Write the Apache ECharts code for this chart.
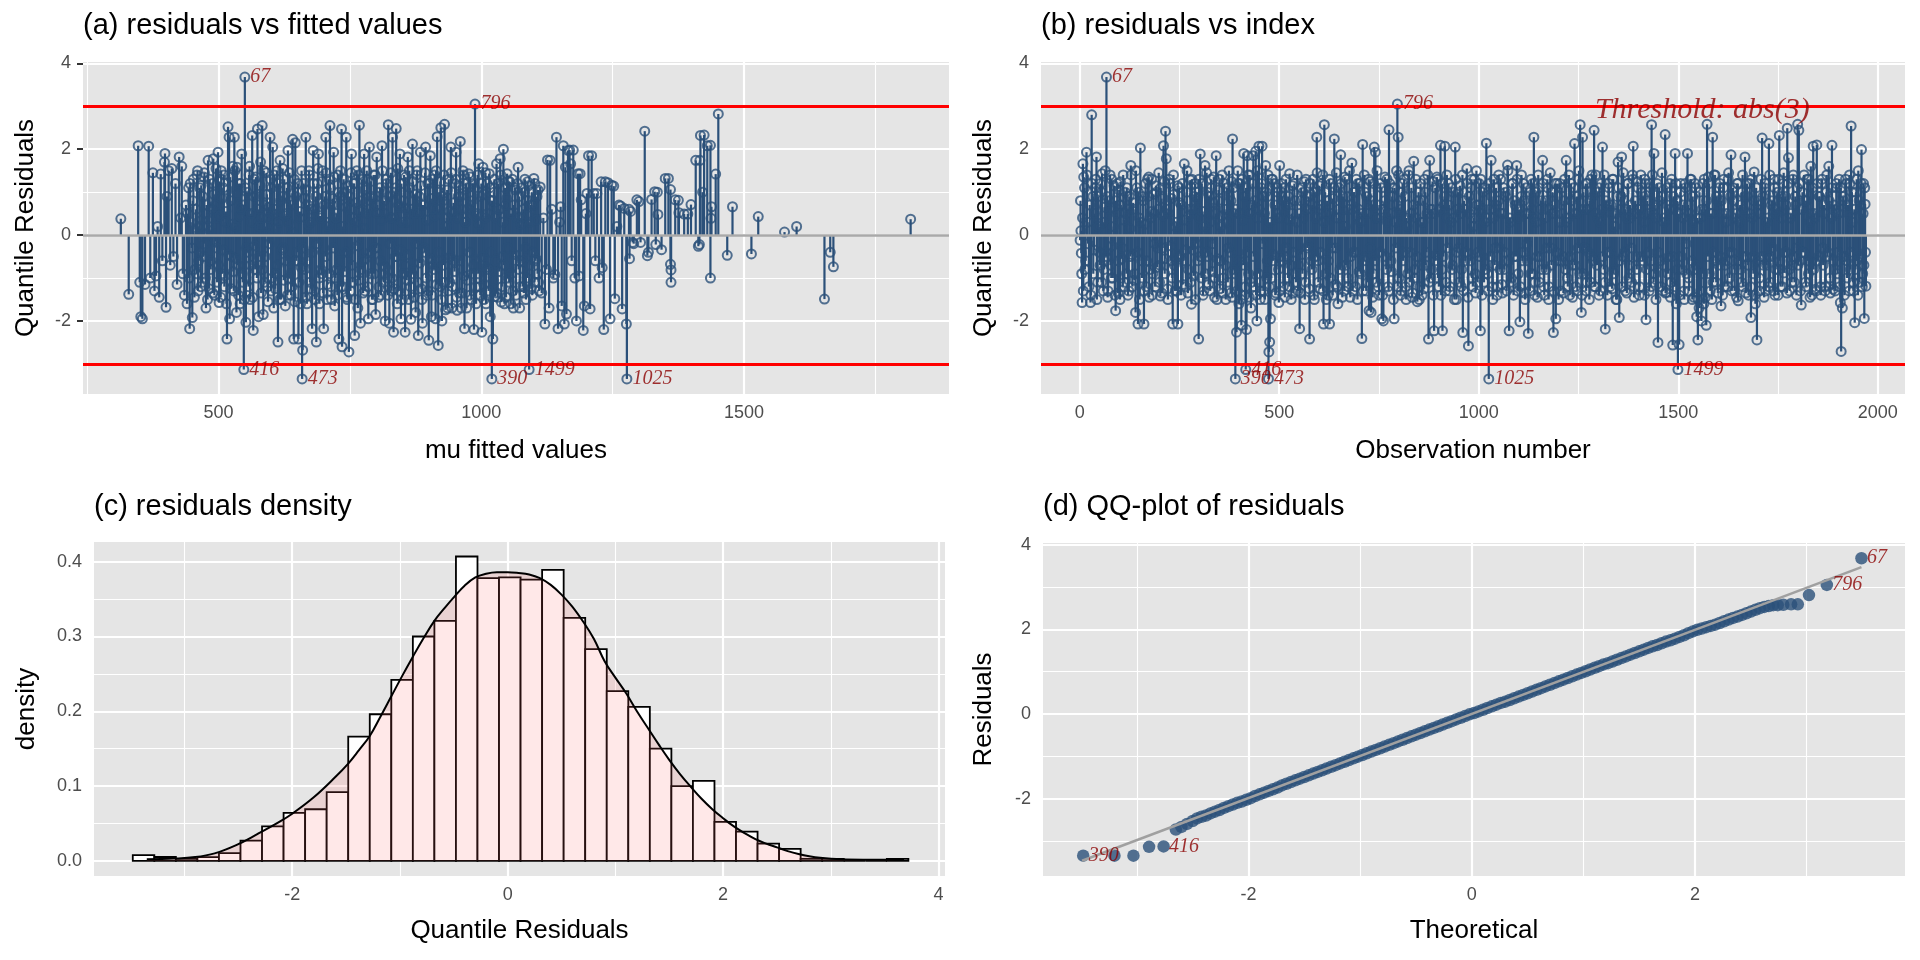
<!DOCTYPE html>
<html>
<head>
<meta charset="utf-8">
<script src="https://cdn.jsdelivr.net/npm/echarts@6.0.0/dist/echarts.min.js"></script>
<style>
  html, body { margin: 0; padding: 0; background: #fff; }
  #chart { width: 1920px; height: 960px; }
</style>
</head>
<body>
<div id="chart"></div>
<script>
// ---- data ----

// (a) mu fitted value vs quantile residual: visible heads and envelope
const fittedVsResid = [
  [314,0.38],[329,-1.38],[347,2.08],[350,-1.1],[352,-1.9],[355,-1.95],[360,-1.15],[367,2.07],[370,-1.0],[375,1.45],
  [378,-1.3],[381,-0.95],[384,0.2],[387,-1.45],[390,1.42],[393,-0.6],[397,1.7],[398,1.9],[400,-1.68],[402,0.9],
  [405,1.5],[408,-0.7],[411,1.55],[414,-0.5],[418,1.2],[421,-1.15],[425,1.82],[428,0.4],[430,1.6],[432,-0.9],
  [435,-1.4],[438,0.7],[440,-1.6],[443,1.1],[445,-2.18],[447,0.3],[450,-1.92],[452,1.3],
  [455,-0.8],[457,0.6],[459,1.4],[461,-1.3],[463,0.2],[465,-0.4],[467,1.16],[469,-1.1],[470,0.9],[472,1.35],
  [474,-0.2],[476,-1.7],[478,0.5],[480,1.74],[482,-1.25],[484,0.1],[486,-0.6],[488,1.2],[490,1.78],[492,-1.4],
  [494,0.7],[496,-0.3],[499,1.93],[501,-1.57],[503,0.45],[505,1.5],[507,-0.9],[509,1.1],[511,-1.2],[513,0.3],
  [516,-2.42],[518,2.52],[520,2.28],[521,-1.95],[523,0.8],[525,-0.5],[527,1.6],[529,-1.3],[530,2.28],[532,0.2],
  [534,-1.8],[535,1.58],[537,-0.7],[539,1.2],[541,-1.6],[543,0.6],[544,1.89],[546,-1.1],[548,-3.13],[550,3.68],
  [552,-2.03],[554,1.0],[556,-0.4],[558,1.4],[560,-1.5],[562,0.5],[564,2.32],[566,-2.22],[568,1.3],[570,-0.8],
  [572,0.9],[574,2.47],[576,-1.9],[578,0.2],[580,1.7],[583,2.55],[585,-1.85],[587,0.7],[589,-0.5],[591,1.45],
  [593,-1.2],[595,0.4],[598,2.28],[600,-1.3],[601,1.1],[603,2.05],[605,-1.7],[607,0.6],[609,-0.9],[611,1.5],
  [613,-2.49],[615,0.3],[617,1.74],[619,-1.5],[621,0.9],[623,-0.3],[625,1.3],[627,-1.65],[629,0.5],[632,1.97],
  [634,-1.0],[636,0.8],[638,-1.4],[641,2.23],[643,-2.42],[646,2.15],[648,-0.6],[650,1.0],[652,-2.42],[654,0.4],
  [656,-1.6],[659,-3.35],[660,-2.68],[662,1.2],[664,-0.8],[666,2.28],[668,-1.6],[670,0.7],[672,1.5],[674,-1.1],
  [676,0.3],[678,-2.18],[680,1.97],[682,-1.3],[684,0.6],[686,-2.49],[688,1.2],[690,1.89],[692,-1.6],[694,0.4],
  [696,-0.9],[698,1.5],[700,-2.18],[702,0.9],[704,2.28],[706,-1.5],[708,0.2],[710,1.3],[712,2.55],[714,-1.2],
  [716,0.7],[719,1.93],[721,-1.65],[723,0.4],[725,-0.8],[727,1.4],[729,-2.42],[731,0.9],[734,2.47],[735,-2.6],
  [737,-1.2],[739,1.0],[741,-0.4],[743,2.28],[745,-1.5],[748,-2.72],[750,0.6],[753,1.89],[755,-1.1],[757,1.2],
  [759,-2.34],[761,0.3],[763,1.5],[765,-1.7],[768,2.56],[770,-2.05],[772,0.8],[774,-0.6],[777,1.89],[779,-1.3],
  [781,0.5],[783,1.3],[785,-1.95],[787,2.05],[789,-0.9],[791,0.9],[793,-1.5],[795,1.4],[797,-0.3],[799,-1.85],
  [801,1.82],[803,0.5],[805,-1.2],[807,1.1],[809,-1.4],[811,2.08],[813,-0.7],[815,0.8],[817,-2.0],[819,1.3],
  [821,-1.0],[823,2.57],[825,-2.05],[827,0.4],[829,-1.3],[831,2.28],[833,-2.26],[835,1.0],[836,-0.5],[838,2.48],
  [840,-1.6],[842,0.7],[845,1.89],[847,-1.95],[849,0.3],[851,-0.9],[853,1.4],[855,-2.26],[857,0.6],[860,1.82],
  [862,-1.5],[864,1.1],[866,-1.96],[869,2.12],[871,-0.8],[873,0.5],[875,-1.8],[878,1.5],[880,-2.34],[882,0.9],
  [884,1.93],[886,-1.25],[888,-2.05],[890,0.7],[892,-0.4],[894,2.05],[896,-1.4],[898,1.2],[900,-2.45],[903,1.85],
  [905,-1.9],[907,0.6],[909,-0.7],[911,1.4],[913,-1.95],[916,2.29],[918,-2.57],[920,1.0],[921,-1.2],[923,2.5],
  [925,-2.0],[927,0.8],[930,2.58],[932,-1.74],[934,0.4],[936,-1.7],[938,1.3],[940,-1.1],[942,2.05],[944,-1.7],
  [946,0.5],[948,-0.6],[950,1.2],[952,1.93],[954,-1.75],[956,0.9],[958,-1.35],[960,2.18],[962,-1.7],[964,0.6],
  [966,1.4],[968,-2.18],[970,0.3],[972,-1.7],[974,1.1],[976,1.43],[978,-1.4],[980,0.7],[982,-0.9],[984,1.2],
  [986,-2.2],[988,3.05],[990,-1.6],[992,0.5],[995,1.66],[997,-1.2],[999,0.9],[1001,-2.26],[1003,1.58],[1005,-1.5],
  [1007,0.4],[1009,-1.6],[1011,1.2],[1013,-0.8],[1015,1.43],[1017,-1.9],[1019,0.8],[1020,-3.35],[1022,-2.42],[1024,1.0],
  [1026,-1.43],[1029,1.66],[1031,-1.45],[1033,0.6],[1036,1.78],[1038,-1.56],[1040,-0.5],[1042,2.0],[1044,-1.6],[1046,0.7],
  [1049,1.43],[1051,-1.0],[1054,1.24],[1056,-1.6],[1058,0.5],[1061,-1.7],[1064,1.1],[1067,-0.6],[1070,1.58],[1073,-1.7],
  [1076,0.4],[1079,-1.2],[1082,1.0],[1085,-1.5],[1088,1.24],[1091,-3.13],[1094,0.7],[1097,-1.4],[1100,1.32],[1103,-0.6],
  [1106,0.9],[1109,-1.1],[1112,1.12],[1115,-1.35],[1118,0.4],[1121,-2.07],[1124,-0.8],[1126,1.75],[1129,-1.7],[1131,1.74],
  [1134,0.6],[1137,-1.0],[1140,-0.92],[1143,2.28],[1146,-2.18],[1149,0.3],[1151,0.66],[1153,-1.65],[1156,2.08],[1158,-2.07],
  [1160,1.58],[1162,-1.84],[1165,1.97],[1168,1.98],[1170,1.66],[1172,-0.6],[1175,1.98],[1178,-1.0],[1181,-2.0],[1184,1.43],
  [1186,-0.95],[1188,1.43],[1190,0.82],[1194,-2.22],[1196,-1.65],[1199,0.5],[1201,0.97],[1204,1.85],[1207,-1.72],[1210,1.85],
  [1214,0.97],[1217,-0.6],[1220,0.97],[1224,-1.0],[1228,1.24],[1230,-0.76],[1233,-2.2],[1236,1.24],[1241,1.22],[1245,-1.95],
  [1248,1.16],[1252,1.14],[1254,-1.48],[1258,0.2],[1262,0.7],[1265,0.68],[1268,-1.72],[1272,0.62],[1276,-2.07],[1277,-3.35],
  [1281,0.6],[1282,-0.55],[1284,0.55],[1288,-0.17],[1290,-0.2],[1296,0.82],[1300,0.78],[1303,-0.17],[1311,2.42],[1316,-0.48],
  [1318,-0.4],[1324,0.83],[1330,1.01],[1332,-0.22],[1335,1.0],[1336,0.48],[1343,-0.34],[1350,1.32],[1356,1.32],[1360,1.06],
  [1360,-0.68],[1361,-0.81],[1361,-1.1],[1369,0.82],[1375,0.81],[1376,0.52],[1386,0.49],[1393,0.49],[1399,0.71],[1408,1.74],
  [1413,-0.26],[1415,-0.22],[1416,1.74],[1417,2.32],[1421,1.0],[1424,2.33],[1430,2.08],[1436,2.09],[1436,-1.0],[1437,0.39],
  [1438,0.66],[1446,1.42],[1451,2.82],[1468,-0.47],[1478,0.66],[1514,-0.44],[1527,0.43],[1577,0.07],[1600,0.2],[1653,-1.49],
  [1664,-0.4],[1670,-0.74],[1817,0.37]
];
// (a) points inside the solid blue mass
const fittedVsResidCore = [
  [441,0.5],[444,-1.0],[446,1.2],[449,-0.3],[451,0.8],[454,-1.45],[456,0.1],[458,-0.9],[460,1.5],[462,-0.6],
  [464,1.1],[466,-1.2],[468,0.35],[471,-0.5],[473,1.45],[475,-1.0],[477,0.7],[479,-1.5],[481,0.2],[483,1.3],
  [485,-0.8],[487,0.6],[489,-1.35],[491,0.95],[493,-0.15],[495,1.55],[497,-1.1],[498,0.4],[500,-0.7],[502,1.25],
  [504,-1.45],[506,0.85],[508,-0.35],[510,1.4],[512,-0.95],[514,0.55],[515,-1.6],[517,1.05],[519,-0.45],[522,1.35],
  [524,-1.25],[526,0.25],[528,-0.85],[531,1.5],[533,-0.55],[536,0.95],[538,-1.4],[540,0.45],[542,1.2],[545,-0.9],
  [547,0.7],[549,-1.5],[551,1.1],[553,-0.3],[555,0.5],[557,-1.2],[559,1.6],[561,-0.7],[563,0.3],[565,-1.45],
  [567,0.9],[569,-0.25],[571,1.35],[573,-1.0],[575,0.6],[577,-0.5],[579,1.15],[581,-1.35],[582,0.4],[584,-0.8],
  [586,1.5],[588,-1.1],[590,0.2],[592,0.95],[594,-1.55],[596,0.65],[597,-0.2],[599,1.3],[602,-1.0],[604,0.5],
  [606,1.4],[608,-1.25],[610,0.15],[612,-0.7],[614,1.2],[616,-1.5],[618,0.8],[620,-0.35],[622,1.55],[624,-1.05],
  [626,0.45],[628,-0.6],[630,1.1],[631,-1.4],[633,0.3],[635,1.45],[637,-0.9],[639,0.7],[640,-1.2],[642,0.05],
  [644,1.3],[645,-1.55],[647,0.9],[649,-0.4],[651,1.2],[653,-1.1],[655,0.55],[657,-0.75],[658,1.5],[661,-0.3],
  [663,0.85],[665,-1.45],[667,1.05],[669,-0.6],[671,0.25],[673,1.4],[675,-1.25],[677,0.6],[679,-0.4],[681,1.2],
  [683,-1.5],[685,0.9],[687,-0.2],[689,1.55],[691,-1.0],[693,0.45],[695,-0.8],[697,1.25],[699,-1.35],[701,0.7],
  [703,-0.5],[705,1.45],[707,-1.15],[709,0.3],[711,-0.9],[713,1.1],[715,-1.5],[717,0.85],[718,-0.3],[720,1.35],
  [722,-1.0],[724,0.5],[726,-1.4],[728,1.0],[730,-0.6],[732,1.5],[733,-1.2],[736,0.2],[738,1.3],[740,-0.85],
  [742,0.65],[744,-1.45],[746,1.15],[747,-0.4],[749,0.9],[751,-1.3],[752,1.45],[754,-0.7],[756,0.4],[758,1.2],
  [760,-1.5],[762,0.75],[764,-0.25],[766,1.4],[767,-1.05],[769,0.55],[771,-0.8],[773,1.3],[775,-1.35],[776,0.15],
  [778,1.05],[780,-0.55],[782,1.5],[784,-1.2],[786,0.6],[788,-0.4],[790,1.25],[792,-1.5],[794,0.85],[796,-0.9],
  [798,1.4],[800,-0.3],[802,0.7],[804,-1.45],[806,1.0],[808,-0.6],[810,0.35],[812,1.5],[814,-1.1],[816,0.5],
  [818,-0.75],[820,1.2],[822,-1.4],[824,0.9],[826,-0.2],[828,1.45],[830,-1.0],[832,0.4],[834,-1.25],[837,1.1],
  [839,-0.5],[841,1.55],[843,-1.3],[844,0.65],[846,-0.35],[848,1.2],[850,-1.5],[852,0.8],[854,-0.7],[856,1.35],
  [858,-1.05],[859,0.3],[861,-0.45],[863,1.5],[865,-1.2],[867,0.6],[868,-0.9],[870,1.25],[872,-1.45],[874,0.95],
  [876,-0.2],[877,1.4],[879,-1.1],[881,0.5],[883,-0.65],[885,1.15],[887,-1.5],[889,0.7],[891,-0.3],[893,1.45],
  [895,-1.0],[897,0.35],[899,-1.3],[901,1.2],[902,-0.55],[904,0.85],[906,-1.4],[908,1.3],[910,-0.8],[912,0.45],
  [914,1.5],[915,-1.15],[917,0.6],[919,-0.4],[922,1.25],[924,-1.5],[926,0.9],[928,-0.7],[929,1.4],[931,-1.1],
  [933,0.2],[935,1.05],[937,-1.3],[939,0.55],[941,-0.5],[943,1.45],[945,-1.2],[947,0.75],[949,-0.85],[951,1.3],
  [953,-1.45],[955,0.4],[957,1.15],[959,-0.6],[961,0.9],[963,-1.35],[965,1.5],[967,-0.95],[969,0.3],[971,1.2],
  [973,-1.05],[975,0.6],[977,-0.4],[979,1.35],[981,-1.5],[983,0.8],[985,-0.7],[987,1.1],[989,-1.2],[991,0.45],
  [993,1.4],[994,-0.9],[996,0.25],[998,-1.4],[1000,1.2],[1002,-0.5],[1004,0.95],[1006,-1.15],[1008,1.45],[1010,-0.75],
  [1012,0.5],[1014,-1.3],[1016,1.1],[1018,-0.4],[1021,0.8],[1023,-1.05],[1025,1.3],[1027,-0.6],[1028,0.4],[1030,-1.35],
  [1032,1.2],[1034,-0.85],[1035,0.6],[1037,1.4],[1039,-1.2],[1041,0.3],[1043,-0.7],[1045,1.1],[1047,-1.45],[1048,0.85],
  [1050,-0.3],[1052,1.25],[1053,-1.1],[1055,0.5],[1057,-0.9],[1059,1.3],[1060,-1.3],[1062,0.7],[1063,-0.45],[1065,1.05],
  [1066,-1.4],[1068,0.4],[1069,1.2],[1071,-0.8],[1072,0.9],[1074,-1.2],[1075,0.25],[1077,1.1],[1078,-0.6],[1080,0.6],
  [1081,-1.35],[1083,1.3],[1084,-0.3],[1086,0.8],[1087,-1.0],[1089,0.45],[1090,1.15],[1092,-0.7],[1093,0.3],[1095,-1.25],
  [1096,1.0],[1098,-0.4],[1099,0.7],[1101,-1.1],[1102,1.2],[1104,-0.55],[1105,0.35],[1107,-0.9],[1108,1.05],[1110,-1.3]
];

// (b) observation number vs quantile residual: visible heads and envelope
const indexVsResid = [
  [1,-0.12],[3,0.1],[4,-0.42],[6,-1.57],[8,1.66],[10,1.35],[13,-0.8],[17,1.93],[20,0.3],[23,-1.2],
  [27,-1.57],[30,2.8],[33,0.9],[36,-0.35],[39,1.1],[42,1.82],[45,-1.1],[48,0.2],[51,-0.7],[54,1.0],
  [56,1.43],[59,-1.3],[62,0.65],[65,-0.4],[67,3.68],[70,-1.45],[73,0.8],[76,1.4],[79,-1.0],[82,-0.25],
  [86,1.15],[90,-1.76],[93,0.5],[96,-1.35],[99,1.05],[102,1.24],[105,-0.55],[108,-1.2],[111,0.35],[114,1.0],
  [117,-0.9],[120,0.6],[123,-1.3],[126,0.15],[128,1.62],[131,-0.45],[134,0.75],[137,-1.05],[140,-1.8],[143,1.1],
  [146,-2.07],[149,0.4],[152,2.03],[155,-0.6],[158,0.9],[161,-2.07],[164,0.25],[167,-1.2],[170,1.3],[173,1.35],
  [176,-0.8],[179,0.55],[182,-1.4],[185,0.95],[188,-0.2],[191,1.15],[194,-0.75],[197,0.6],[200,-1.1],[202,-1.42],
  [205,0.85],[208,-0.3],[210,2.08],[213,-0.9],[215,2.42],[217,1.78],[220,-1.25],[223,0.5],[226,1.2],[229,-0.6],
  [233,-2.07],[236,0.95],[239,-1.3],[242,0.3],[246,-2.07],[249,1.1],[252,-0.5],[255,0.7],[258,-1.15],[262,1.66],
  [265,-0.35],[268,1.0],[271,-1.35],[274,0.45],[277,1.28],[280,-1.61],[283,0.6],[286,-0.95],[289,1.2],[292,-0.2],
  [295,0.85],[298,-2.42],[300,0.4],[302,1.89],[305,-1.0],[308,0.55],[311,-1.3],[314,1.62],[317,-0.4],[320,1.0],
  [323,-1.15],[326,0.3],[329,1.3],[332,-0.85],[335,0.75],[338,-1.45],[342,1.85],[345,-0.55],[348,1.05],[351,-1.25],
  [354,0.2],[357,1.4],[360,-1.0],[363,0.6],[366,-1.5],[369,1.1],[372,-0.3],[375,0.9],[378,-1.35],[380,1.25],
  [383,2.24],[386,-0.8],[389,0.5],[390,-3.35],[393,-2.26],[396,1.5],[399,-1.6],[402,1.2],[405,-2.1],[408,0.35],
  [411,1.9],[414,-1.4],[416,-3.13],[418,-2.2],[420,1.85],[423,-0.9],[426,1.4],[429,-1.7],[432,0.7],[435,1.85],
  [438,-1.2],[441,1.95],[444,-2.0],[447,0.4],[449,2.07],[452,-1.5],[455,1.1],[457,2.07],[460,-1.3],[463,0.5],
  [466,1.62],[469,-1.0],[471,0.9],[473,-3.35],[474,-2.72],[476,-2.49],[478,-1.95],[481,1.3],[484,-0.6],[487,1.2],
  [490,-1.4],[493,0.5],[496,1.0],[499,-1.57],[501,1.62],[504,-0.5],[507,0.9],[510,-1.2],[513,1.1],[516,-0.3],
  [519,0.7],[522,-1.0],[526,1.43],[529,-0.7],[532,0.5],[535,-1.35],[538,1.2],[541,-0.9],[544,0.3],[547,-1.3],
  [551,-2.18],[554,0.8],[557,-0.45],[560,1.0],[563,1.24],[566,-1.1],[569,0.6],[572,-0.25],[576,-2.42],[579,0.95],
  [582,-0.8],[585,1.3],[588,-1.5],[591,0.4],[594,2.28],[597,-0.6],[600,1.15],[603,-1.25],[606,0.7],[609,1.4],
  [611,-2.07],[613,2.57],[616,-0.9],[619,0.5],[622,-1.4],[626,-2.07],[629,1.2],[632,-0.3],[635,0.85],[638,2.24],
  [641,-1.15],[644,0.4],[647,-1.6],[650,1.1],[654,1.87],[657,-0.7],[660,0.9],[663,-1.3],[666,0.2],[669,1.3],
  [672,-1.0],[675,0.6],[678,-1.45],[682,1.68],[685,-0.4],[688,1.0],[691,-1.2],[694,0.45],[697,1.2],[700,-0.85],
  [703,0.3],[707,-2.41],[709,2.11],[712,-0.6],[715,1.0],[718,-1.3],[721,0.5],[725,-1.76],[728,1.25],[730,-1.8],
  [733,0.7],[736,-0.9],[738,2.05],[741,1.93],[744,-1.1],[747,0.4],[750,-1.4],[753,1.2],[757,-1.95],[761,-2.0],
  [764,0.8],[767,-0.5],[770,1.3],[773,-1.2],[775,2.45],[778,0.5],[781,-0.85],[784,1.1],[788,-1.95],[791,0.3],
  [794,1.5],[796,3.05],[798,2.28],[800,-1.0],[803,0.6],[806,-1.3],[809,1.2],[812,-0.4],[815,0.9],[818,-1.5],
  [821,0.2],[824,1.4],[827,-1.1],[830,0.5],[833,-1.45],[837,1.72],[840,-0.8],[843,0.4],[846,-1.55],[849,1.0],
  [852,-1.2],[855,0.3],[858,-1.4],[861,0.8],[864,1.3],[867,-0.7],[870,0.5],[874,-2.42],[877,1.74],[880,-1.0],
  [883,0.6],[888,-2.23],[891,1.1],[894,-0.45],[897,1.3],[900,-1.2],[904,2.09],[907,-0.8],[909,-2.23],[912,0.7],
  [915,2.07],[918,-1.1],[921,0.4],[924,1.2],[927,-1.3],[930,0.3],[933,-0.8],[936,1.0],[941,2.05],[944,-1.5],
  [947,0.6],[950,-0.3],[953,1.15],[956,-1.2],[960,-2.27],[963,0.8],[966,-0.6],[970,1.55],[974,-2.58],[977,0.5],
  [980,1.1],[983,-1.0],[986,0.2],[989,1.3],[992,-1.35],[995,0.7],[998,-0.4],[1001,1.2],[1004,-2.23],[1007,0.5],
  [1010,1.0],[1013,-1.1],[1016,0.3],[1019,2.14],[1022,-0.9],[1025,-3.35],[1028,0.6],[1031,1.74],[1034,-1.2],[1037,0.4],
  [1040,-0.7],[1043,1.1],[1046,-1.4],[1049,0.8],[1052,-0.3],[1055,1.3],[1058,-1.15],[1061,0.5],[1064,-0.8],[1067,1.0],
  [1072,1.63],[1076,-2.23],[1079,0.3],[1082,-1.0],[1085,1.2],[1088,-0.5],[1091,0.7],[1095,1.62],[1098,-1.3],[1100,0.4],
  [1103,-2.02],[1106,0.9],[1109,-0.6],[1112,1.2],[1115,-1.35],[1118,0.5],[1121,-0.2],[1124,-2.29],[1127,1.0],[1130,-0.9],
  [1133,0.6],[1135,1.2],[1138,2.28],[1141,-1.1],[1144,0.3],[1147,-1.45],[1150,1.1],[1153,-0.5],[1156,0.8],[1160,1.74],
  [1163,-1.2],[1166,0.4],[1169,-0.8],[1172,1.3],[1175,-1.5],[1178,0.6],[1181,-0.3],[1184,1.0],[1187,-2.27],[1190,0.7],
  [1193,-1.95],[1196,1.2],[1199,-0.6],[1202,0.3],[1205,-1.3],[1208,1.1],[1211,-0.5],[1214,0.8],[1219,1.74],[1222,-1.0],
  [1225,0.4],[1228,-1.4],[1231,1.2],[1234,-0.7],[1237,0.5],[1240,2.13],[1243,-1.2],[1246,0.9],[1249,-0.3],[1251,1.5],
  [1254,2.57],[1257,-1.8],[1260,2.28],[1263,-0.9],[1266,0.6],[1269,-1.3],[1272,1.2],[1275,-0.4],[1278,0.8],[1281,-1.1],
  [1284,1.4],[1287,-0.6],[1289,2.44],[1292,-1.2],[1295,0.5],[1298,1.0],[1301,-1.4],[1304,0.3],[1307,1.2],[1310,2.05],
  [1313,-0.8],[1317,-2.19],[1320,0.7],[1323,-0.4],[1326,1.1],[1329,-1.2],[1332,0.5],[1335,1.3],[1338,-0.9],[1341,0.2],
  [1344,-1.5],[1347,0.9],[1349,1.7],[1352,-1.92],[1355,0.6],[1358,1.82],[1361,-0.5],[1364,1.0],[1367,-1.3],[1370,0.4],
  [1373,1.2],[1376,-1.0],[1379,0.7],[1382,-0.3],[1385,1.4],[1387,2.07],[1390,-1.2],[1393,0.5],[1396,-0.8],[1399,1.1],
  [1402,-1.4],[1405,0.6],[1408,1.0],[1411,-0.6],[1414,0.3],[1416,1.3],[1419,-1.97],[1422,0.8],[1425,-0.4],[1428,1.2],
  [1431,-1.2],[1433,2.57],[1436,0.5],[1439,1.9],[1442,-0.9],[1445,0.4],[1449,-2.5],[1452,1.1],[1455,-0.6],[1458,0.9],
  [1461,-1.3],[1464,0.3],[1467,2.34],[1470,-1.33],[1473,0.7],[1476,-0.5],[1479,1.2],[1482,-1.1],[1486,-2.56],[1489,0.6],
  [1492,1.9],[1495,-1.6],[1497,0.8],[1499,-3.13],[1502,-2.55],[1505,1.0],[1508,-0.5],[1511,0.7],[1514,-1.3],[1517,1.2],
  [1520,-0.2],[1523,1.9],[1526,-1.0],[1529,0.5],[1532,1.3],[1535,-1.5],[1538,0.3],[1541,-0.8],[1544,1.1],[1546,-1.9],
  [1549,-2.44],[1552,-1.7],[1555,0.4],[1558,-2.0],[1561,1.2],[1564,-1.6],[1567,0.6],[1570,-2.1],[1572,2.58],[1575,1.35],
  [1578,-0.9],[1581,0.5],[1584,-1.5],[1586,2.28],[1589,-0.4],[1592,1.4],[1595,-1.1],[1598,0.8],[1601,-0.7],[1604,1.2],
  [1607,-1.65],[1610,0.5],[1613,1.1],[1616,-1.2],[1619,0.3],[1622,-0.6],[1625,1.3],[1628,-1.0],[1632,1.87],[1635,-0.4],
  [1638,0.8],[1641,-1.3],[1644,0.5],[1647,1.2],[1650,-1.53],[1653,0.3],[1656,-0.8],[1659,1.0],[1662,-1.2],[1664,0.6],
  [1667,1.82],[1670,-0.5],[1673,0.9],[1676,-1.4],[1679,1.2],[1682,-1.92],[1685,0.4],[1688,-0.9],[1690,1.47],[1693,-1.6],
  [1697,-2.44],[1700,0.8],[1703,-1.0],[1706,0.5],[1710,2.26],[1713,-0.7],[1716,1.1],[1719,-1.3],[1722,0.3],[1725,-0.5],
  [1727,2.13],[1730,-1.1],[1733,0.7],[1736,-0.3],[1739,1.3],[1742,-1.4],[1745,0.6],[1748,1.0],[1751,-0.8],[1753,2.32],
  [1756,-1.2],[1759,0.4],[1762,1.2],[1765,-0.88],[1768,0.9],[1771,-0.4],[1773,2.49],[1776,1.8],[1779,-1.3],[1782,0.5],
  [1785,-0.7],[1788,1.4],[1791,-1.1],[1794,0.7],[1797,-0.3],[1799,2.58],[1802,2.44],[1805,-0.6],[1808,-1.63],[1811,1.0],
  [1814,-0.4],[1817,0.8],[1820,-1.2],[1823,1.3],[1826,-0.9],[1829,0.3],[1832,1.6],[1835,-1.4],[1838,2.07],[1841,0.5],
  [1844,-1.26],[1847,2.1],[1850,-0.6],[1853,0.9],[1856,-1.2],[1859,1.2],[1862,-0.3],[1865,0.7],[1868,-1.3],[1871,1.0],
  [1874,-0.5],[1877,1.6],[1880,-1.0],[1883,0.4],[1885,2.09],[1888,-1.26],[1891,0.6],[1894,-0.8],[1897,1.1],[1900,-0.4],
  [1903,1.3],[1906,-1.57],[1908,-2.71],[1911,-1.7],[1914,0.8],[1917,-0.5],[1920,1.2],[1923,-1.0],[1926,0.5],[1929,1.4],
  [1931,-0.8],[1933,2.54],[1936,0.3],[1939,-1.3],[1942,-2.04],[1945,1.0],[1948,-0.6],[1951,1.5],[1954,-1.1],[1956,0.7],
  [1959,1.99],[1962,-0.9],[1964,1.2],[1966,-1.94],[1968,0.72],[1970,-1.19]
];
// (b) points inside the solid blue mass
const indexVsResidCore = [
  [2,0.8],[5,-0.9],[7,0.4],[9,-1.3],[12,1.1],[15,-0.6],[18,1.4],[21,-0.2],[25,0.7],[28,-1.4],[31,1.2],[34,-0.9],
  [37,0.5],[40,1.3],[43,-1.5],[46,0.9],[49,-0.4],[52,1.2],[55,-1.1],[58,0.3],[61,-0.8],[64,1.5],[66,-0.5],[69,0.9],
  [71,-1.3],[74,0.6],[77,-0.7],[80,1.3],[83,-1.0],[85,0.2],[88,-1.4],[91,0.8],[94,1.2],[97,-0.6],[100,0.7],
  [101,-1.5],[103,0.7],[106,-0.3],[109,1.4],[112,-1.1],[115,0.5],[118,1.1],[121,-1.4],[124,0.9],[127,-0.5],[129,1.4],
  [132,-1.2],[135,0.6],[138,-0.9],[141,1.5],[144,-0.4],[147,1.0],[150,-1.5],[153,0.3],[156,-1.0],[159,0.8],[162,-1.3],
  [165,1.2],[168,-0.6],[171,0.9],[174,-1.45],[177,0.4],[180,1.3],[183,-0.9],[186,0.5],[189,-1.2],[192,1.0],[195,-0.3],
  [198,1.45],[201,-0.7],[203,1.1],[206,-1.35],[209,0.45],[212,1.25],[214,-0.55],[218,0.6],[221,-1.5],[224,1.3],
  [227,-0.25],[230,0.85],[232,-1.0],[235,1.4],[237,-0.7],[240,0.2],[243,-1.3],[245,1.15],[248,-0.45],[251,0.75],
  [254,-1.4],[257,1.2],[260,-0.6],[263,0.35],[266,-1.2],[269,1.5],[272,-0.8],[275,0.6],[278,-1.1],[281,1.3],[284,-0.35],
  [287,0.9],[290,-1.5],[293,1.0],[296,-0.6],[299,1.3],[303,-0.5],[306,1.2],[309,-1.4],[312,0.2],[315,-0.9],[318,1.45],
  [321,-0.5],[324,0.9],[327,-1.3],[330,1.1],[333,-0.2],[336,1.35],[339,-1.0],[341,0.5],[344,-1.5],[347,0.8],[350,1.3],
  [353,-0.6],[356,0.45],[359,-1.35],[362,1.2],[365,-0.7],[368,0.3],[371,-1.1],[374,1.5],[377,-0.4],[379,0.8],[382,-1.45],
  [385,1.1],[388,-0.9],[391,0.6],[394,-1.3],[397,1.2],[400,-0.6],[401,0.5],[404,-1.5],[407,1.3],[410,-0.7],[413,0.9],
  [415,-1.2],[417,1.1],[419,-0.4],[422,1.4],[425,-1.45],[427,0.5],[430,-1.1],[433,1.2],[436,-0.5],[439,0.8],[442,-1.4],
  [445,1.5],[448,-0.9],[450,0.6],[453,-1.3],[456,1.2],[458,-0.2],[461,0.9],[464,-1.5],[467,1.0],[470,-0.6],[472,1.4],
  [475,-1.2],[477,0.3],[480,-1.0],[483,1.3],[486,-0.45],[489,0.7],[492,-1.35],[495,1.1],[498,-0.8],[500,0.4],[502,-1.3],
  [505,1.2],[508,-0.6],[511,0.8],[514,-1.45],[517,1.3],[520,-0.5],[523,0.9],[525,-1.2],[527,0.35],[530,-1.5],[533,1.15],
  [536,-0.4],[539,0.8],[542,-1.1],[545,1.4],[548,-0.7],[550,0.5],[553,-1.35],[555,1.1],[558,-0.9],[561,0.4],[564,-1.5],
  [567,1.3],[570,-0.3],[573,0.9],[575,-1.25],[578,1.2],[580,-0.6],[583,0.7],[586,-1.4],[589,1.0],[592,-0.5],[595,1.45],
  [598,-1.1],[601,0.6],[604,-0.4],[607,1.2],[610,-1.3],[612,0.3],[615,1.0],[618,-1.5],[620,0.8],[623,-0.6],[625,1.3],
  [628,-1.0],[631,0.5],[634,-1.4],[637,1.1],[640,-0.3],[643,1.45],[646,-1.2],[649,0.6],[652,-0.8],[655,1.2],[658,-1.45],
  [661,0.4],[664,1.35],[667,-0.7],[670,0.9],[673,-1.2],[676,1.5],[679,-0.5],[681,0.7],[684,-1.3],[687,1.0],[690,-0.4],
  [693,1.3],[696,-1.5],[699,0.6],[701,1.2],[704,-0.9],[706,0.5],[710,-1.3],[713,1.4],[716,-0.5],[719,0.9],[722,-1.1],
  [724,1.3],[727,-0.3],[731,0.8],[734,-1.45],[737,1.2],[740,-0.6],[742,0.4],[745,1.5],[748,-1.2],[751,0.7],[754,-0.4],
  [756,1.1],[759,-1.4],[762,0.6],[765,1.35],[768,-0.8],[771,0.3],[774,-1.3],[777,1.2],[780,-0.6],[783,0.9],[786,-1.5],
  [789,1.1],[792,-0.3],[795,0.7],[797,-1.2],[799,1.4],[801,0.5],[804,-1.4],[807,1.0],[810,-0.6],[813,1.3],[816,-1.2],
  [819,0.4],[822,-0.9],[825,1.5],[828,-0.4],[831,1.1],[834,-1.35],[836,0.7],[839,-1.0],[842,1.3],[845,-0.5],[848,0.8],
  [851,-1.5],[854,1.2],[857,-0.7],[860,0.3],[863,-1.25],[866,1.0],[869,-0.4],[872,1.4],[875,-1.1],[878,0.6],[881,-0.8],
  [884,1.25],[886,-1.4],[889,0.5],[892,-0.6],[895,1.35],[898,-1.0],[902,0.6],[905,-1.4],[908,1.2],[911,-0.5],[914,0.9],
  [917,-1.3],[920,1.4],[922,-0.3],[925,0.7],[928,-1.2],[931,1.1],[934,-0.7],[937,0.4],[939,-1.5],[942,1.3],[945,-0.4],
  [948,1.0],[951,-1.1],[954,0.5],[957,-0.8],[959,1.4],[962,-1.3],[965,0.6],[968,-0.4],[971,1.2],[973,-1.45],[976,0.9],
  [979,-0.6],[982,1.3],[985,-1.2],[988,0.4],[991,-0.9],[994,1.5],[997,-1.1],[1000,0.7],[1002,-0.5],[1005,1.3],[1008,-1.4],
  [1011,0.6],[1014,1.1],[1017,-0.8],[1020,0.4],[1023,-1.3],[1026,1.2],[1029,-0.5],[1032,0.9],[1035,-1.5],[1038,1.3],
  [1041,-0.3],[1044,0.7],[1047,-1.2],[1050,1.4],[1053,-0.8],[1056,0.5],[1059,-1.35],[1062,1.1],[1065,-0.4],[1068,0.9],
  [1070,-1.3],[1073,1.5],[1075,-0.6],[1078,0.4],[1081,-1.1],[1084,1.2],[1087,-1.4],[1090,0.8],[1093,-0.5],[1096,1.3],
  [1099,-0.9],[1101,0.6],[1104,-1.2],[1107,1.4],[1110,-0.4],[1113,0.8],[1116,-1.5],[1119,1.1],[1122,-0.6],[1125,0.5],
  [1128,-1.3],[1131,1.3],[1134,-0.9],[1137,0.4],[1140,-1.4],[1143,1.0],[1146,-0.5],[1149,1.4],[1152,-1.1],[1155,0.6],
  [1158,-0.8],[1161,1.2],[1164,-1.4],[1167,0.8],[1170,-0.3],[1173,1.1],[1176,-1.2],[1179,1.45],[1182,-0.7],[1185,0.5],
  [1188,-1.3],[1191,1.2],[1194,-0.4],[1197,0.9],[1200,-1.5],[1203,1.2],[1206,-0.6],[1209,0.5],[1212,-1.35],[1215,1.3],
  [1217,-0.8],[1220,0.3],[1223,-1.2],[1226,1.4],[1229,-0.5],[1232,0.8],[1235,-1.45],[1238,1.1],[1241,-0.7],[1244,0.5],
  [1247,-1.3],[1250,1.3],[1253,-0.9],[1256,0.6],[1259,-1.4],[1262,1.0],[1265,-0.3],[1268,1.2],[1271,-1.1],[1274,0.6],
  [1277,-1.5],[1280,1.3],[1283,-0.5],[1286,0.9],[1290,-1.2],[1293,1.4],[1296,-0.7],[1299,0.4],[1302,1.1],[1305,-1.3],
  [1308,0.6],[1311,-0.5],[1314,1.4],[1316,-1.1],[1319,0.8],[1322,-1.4],[1325,1.2],[1328,-0.4],[1331,0.7],[1334,-1.25],
  [1337,1.3],[1340,-0.8],[1343,0.5],[1346,-1.5],[1350,1.1],[1353,-0.6],[1356,0.9],[1359,-1.2],[1362,1.45],[1365,-0.4],
  [1368,0.6],[1371,-1.35],[1374,1.2],[1377,-0.7],[1380,0.4],[1383,-1.1],[1386,1.3],[1389,-1.45],[1392,0.8],[1395,-0.5],
  [1398,1.25],[1401,0.6],[1403,-1.2],[1406,1.4],[1409,-0.5],[1412,0.9],[1415,-1.4],[1418,1.2],[1421,-0.8],[1424,0.5],
  [1427,-1.3],[1430,1.1],[1432,-0.6],[1435,1.4],[1438,-1.1],[1441,0.7],[1444,-1.5],[1447,1.2],[1450,-0.4],[1453,0.8],
  [1456,-1.2],[1459,1.45],[1462,-0.7],[1465,0.4],[1468,-1.35],[1471,1.1],[1474,-0.9],[1477,0.6],[1480,-1.45],[1483,1.3],
  [1485,-0.5],[1488,0.9],[1491,-1.2],[1494,1.2],[1498,-0.8],[1500,0.5],[1503,-1.4],[1506,1.2],[1509,-0.8],[1512,0.4],
  [1515,-1.5],[1518,1.1],[1521,-0.9],[1524,0.7],[1527,-1.3],[1530,1.3],[1533,-0.6],[1536,0.9],[1539,-1.45],[1542,1.2],
  [1545,-0.7],[1548,0.4],[1550,-1.5],[1553,1.0],[1556,-1.3],[1559,0.6],[1562,-0.9],[1565,1.3],[1568,-1.45],[1571,0.8],
  [1574,-0.5],[1577,1.2],[1580,-1.3],[1583,0.5],[1587,-1.1],[1590,1.4],[1593,-0.6],[1596,0.9],[1599,-1.35],[1602,1.1],
  [1605,-0.5],[1608,0.8],[1611,-1.4],[1614,1.3],[1617,-0.7],[1620,0.5],[1623,-1.2],[1626,1.45],[1629,-0.4],[1631,0.9],
  [1634,-1.3],[1637,1.1],[1640,-0.8],[1643,0.4],[1646,-1.45],[1649,1.2],[1652,-0.6],[1655,0.7],[1658,-1.1],[1661,1.4],
  [1663,-0.5],[1666,0.9],[1669,-1.35],[1672,1.2],[1675,-0.7],[1678,0.5],[1681,-1.2],[1684,1.3],[1687,-0.5],[1689,0.8],
  [1692,-1.4],[1695,1.1],[1698,-0.6],[1701,0.7],[1704,-1.3],[1707,1.3],[1709,-0.5],[1712,0.9],[1715,-1.45],[1718,1.2],
  [1721,-0.7],[1724,0.4],[1726,-1.2],[1729,1.4],[1732,-0.5],[1735,0.8],[1738,-1.3],[1741,1.1],[1744,-0.8],[1747,0.5],
  [1750,-1.4],[1752,1.3],[1755,-0.6],[1758,0.9],[1761,-1.2],[1764,1.45],[1767,-0.4],[1770,0.7],[1772,-1.35],[1775,1.2],
  [1778,-0.8],[1781,0.4],[1784,-1.1],[1787,1.3],[1790,-0.5],[1793,0.9],[1796,-1.4],[1798,1.1],[1800,-0.7],[1803,1.2],
  [1806,-1.3],[1809,0.6],[1812,-0.4],[1815,1.4],[1818,-1.1],[1821,0.8],[1824,-0.6],[1827,1.3],[1830,-1.45],[1833,0.5],
  [1836,1.1],[1839,-0.8],[1842,0.4],[1845,-1.3],[1848,1.2],[1851,-0.5],[1854,0.9],[1857,-1.4],[1860,1.3],[1863,-0.7],
  [1866,0.5],[1869,-1.2],[1872,1.4],[1875,-0.4],[1878,0.8],[1881,-1.35],[1884,1.1],[1887,-0.6],[1890,0.7],[1893,-1.3],
  [1896,1.2],[1899,-0.9],[1901,0.5],[1904,-1.2],[1907,1.1],[1910,-0.5],[1913,0.9],[1916,-1.4],[1919,1.3],[1922,-0.6],
  [1925,0.7],[1928,-1.3],[1930,1.2],[1932,-0.4],[1935,1.0],[1938,-1.1],[1941,0.6],[1944,-0.8],[1947,1.3],[1950,-1.4],
  [1953,0.8],[1955,-0.5],[1958,1.2],[1961,-1.2],[1963,0.5],[1965,-0.7],[1967,1.1],[1969,-0.4]
];

// labelled observations
const outlierIds    = [67, 796, 416, 473, 390, 1499, 1025];
const outlierFitted = [550, 988, 548, 659, 1020, 1091, 1277];
const outlierResid  = [3.68, 3.05, -3.13, -3.35, -3.35, -3.13, -3.35];
const threshold = 3;

// (c) histogram: bins of width 0.2 starting at -3.48, density per bin
const histStart = -3.48;
const histBinWidth = 0.2;
const histDensity = [
  0.0076, 0.0051, 0.0025, 0.005, 0.0102, 0.027, 0.046, 0.064, 0.069, 0.092,
  0.166, 0.196, 0.242, 0.300, 0.321, 0.407, 0.378, 0.379, 0.376, 0.389,
  0.325, 0.283, 0.227, 0.206, 0.150, 0.100, 0.107, 0.052, 0.039, 0.023,
  0.016, 0.0025, 0.0025, 0, 0, 0.0025
];
const densX = [-3.35,-3.1,-2.9,-2.72,-2.52,-2.32,-2.12,-2.0,-1.8,-1.6,-1.48,-1.38,-1.28,-1.18,-1.08,-0.98,-0.88,-0.78,
  -0.68,-0.58,-0.49,-0.4,-0.3,-0.2,-0.1,0.0,0.1,0.2,0.3,0.4,0.5,0.6,0.7,0.8,0.9,1.0,1.1,1.2,1.3,1.4,1.5,1.6,1.7,1.8,
  1.9,2.0,2.1,2.2,2.3,2.4,2.5,2.6,2.7,2.8,2.9,3.1,3.3,3.5,3.68];
const densY = [0.002,0.003,0.005,0.01,0.021,0.036,0.052,0.063,0.085,0.112,0.13,0.148,0.167,0.193,0.22,0.247,0.273,0.298,
  0.321,0.339,0.354,0.368,0.379,0.384,0.386,0.386,0.385,0.383,0.378,0.369,0.356,0.34,0.32,0.297,0.267,0.245,0.224,0.2,
  0.178,0.156,0.135,0.116,0.099,0.083,0.069,0.057,0.046,0.037,0.029,0.023,0.018,0.013,0.009,0.006,0.004,0.002,0.0015,
  0.0015,0.0015];

// (d) QQ plot
const qqTheo = [-3.48,-3.2,-3.03,-2.89,-2.76,-2.65,-2.6,-2.55,-2.5,-2.46,-2.42,-2.38,-2.34,-2.3,-2.26,-2.22,-2.18,-2.14,
  -2.1,-2.06,-2.02,-1.98,-1.94,-1.9,-1.86,-1.82,-1.78,-1.74,-1.7,-1.66,-1.62,-1.58,-1.54,-1.5,-1.46,-1.42,-1.38,-1.34,
  -1.3,-1.26,-1.22,-1.18,-1.14,-1.1,-1.06,-1.02,-0.98,-0.94,-0.9,-0.86,-0.82,-0.78,-0.74,-0.7,-0.66,-0.62,-0.58,-0.54,
  -0.5,-0.46,-0.42,-0.38,-0.34,-0.3,-0.26,-0.22,-0.18,-0.14,-0.1,-0.06,-0.02,0.02,0.06,0.1,0.14,0.18,0.22,0.26,0.3,
  0.34,0.38,0.42,0.46,0.5,0.54,0.58,0.62,0.66,0.7,0.74,0.78,0.82,0.86,0.9,0.94,0.98,1.02,1.06,1.1,1.14,1.18,1.22,1.26,
  1.3,1.34,1.38,1.42,1.46,1.5,1.54,1.58,1.62,1.66,1.7,1.74,1.78,1.82,1.86,1.9,1.94,1.98,2.02,2.06,2.1,2.14,2.18,2.22,
  2.26,2.3,2.34,2.38,2.42,2.46,2.5,2.54,2.58,2.62,2.66,2.7,2.74,2.79,2.86,2.92,3.02,3.18,3.49];
const qqResid = [-3.35,-3.35,-3.35,-3.14,-3.13,-2.73,-2.67,-2.6,-2.53,-2.47,-2.43,-2.4,-2.35,-2.31,-2.27,-2.22,-2.18,-2.14,
  -2.1,-2.07,-2.03,-1.99,-1.94,-1.9,-1.86,-1.82,-1.78,-1.74,-1.69,-1.65,-1.61,-1.57,-1.53,-1.49,-1.45,-1.41,-1.37,-1.33,
  -1.29,-1.25,-1.21,-1.17,-1.13,-1.09,-1.05,-1.01,-0.97,-0.93,-0.89,-0.85,-0.81,-0.77,-0.73,-0.69,-0.65,-0.61,-0.57,-0.53,
  -0.49,-0.45,-0.41,-0.37,-0.33,-0.29,-0.25,-0.21,-0.17,-0.13,-0.09,-0.05,-0.01,0.02,0.06,0.1,0.14,0.18,0.22,0.26,0.29,
  0.33,0.37,0.41,0.45,0.49,0.53,0.57,0.61,0.65,0.69,0.73,0.77,0.81,0.85,0.89,0.93,0.97,1.01,1.05,1.09,1.13,1.17,1.2,1.24,
  1.28,1.32,1.36,1.4,1.44,1.48,1.52,1.56,1.6,1.63,1.67,1.71,1.74,1.78,1.82,1.86,1.91,1.95,1.99,2.02,2.05,2.08,2.11,2.15,
  2.19,2.23,2.27,2.3,2.34,2.38,2.42,2.46,2.5,2.53,2.55,2.57,2.57,2.58,2.59,2.59,2.81,3.05,3.68];
const qqLineX = [-3.49, 3.49];
const qqLineY = [-3.47, 3.47];
const qqLabelIds = [67, 796, 416, 390];
const qqLabelTheo = [3.49, 3.18, -2.76, -3.48];
const qqLabelResid = [3.68, 3.05, -3.13, -3.35];

// ---- styling ----
const FONT = 'Liberation Sans';
const BLUE = '#2B5079';
const DARKRED = '#8B0000';
const PANEL = '#E5E5E5';

const chart = echarts.init(document.getElementById('chart'), null, {renderer: 'canvas'});

function xAxisFor(gridIndex, min, max, ticks, name, nameGap) {
  return {
    type: 'value', gridIndex, min, max, name, nameGap,
    nameLocation: 'middle',
    nameTextStyle: {fontSize: 26, color: '#000', fontFamily: FONT},
    axisLine: {show: false}, splitLine: {show: false},
    axisTick: {show: true, customValues: ticks, length: 6, lineStyle: {color: '#333', width: 2}},
    axisLabel: {customValues: ticks, fontSize: 18, color: '#4D4D4D', fontFamily: FONT, margin: 10,
      formatter: v => String(v)}
  };
}
function yAxisFor(gridIndex, min, max, ticks, name, nameGap, fmt) {
  return {
    type: 'value', gridIndex, min, max, name, nameGap,
    nameLocation: 'middle', nameRotate: 90,
    nameTextStyle: {fontSize: 26, color: '#000', fontFamily: FONT},
    axisLine: {show: false}, splitLine: {show: false},
    axisTick: {show: true, customValues: ticks, length: 6, lineStyle: {color: '#333', width: 2}},
    axisLabel: {customValues: ticks, fontSize: 18, color: '#4D4D4D', fontFamily: FONT, margin: 12,
      formatter: fmt || (v => String(v))}
  };
}

// white panel grid lines drawn as mark lines (kept under the data with z: 1)
function gridLines(i, xMajor, xMinor, yMajor, yMinor) {
  const major = {color: '#FFFFFF', width: 2.2, type: 'solid'};
  const minor = {color: '#FFFFFF', width: 1.1, type: 'solid'};
  const d = [];
  xMinor.forEach(v => d.push({xAxis: v, lineStyle: minor}));
  yMinor.forEach(v => d.push({yAxis: v, lineStyle: minor}));
  xMajor.forEach(v => d.push({xAxis: v, lineStyle: major}));
  yMajor.forEach(v => d.push({yAxis: v, lineStyle: major}));
  return {
    type: 'line', xAxisIndex: i, yAxisIndex: i, data: [], z: 1, silent: true,
    markLine: {silent: true, z: 1, symbol: ['none', 'none'], label: {show: false}, animation: false, data: d}
  };
}

function stems(i, pts) {
  return {
    type: 'custom', xAxisIndex: i, yAxisIndex: i, z: 2, silent: true,
    data: pts,
    encode: {x: 0, y: 1},
    renderItem: (params, api) => {
      const x = api.value(0), y = api.value(1);
      const a = api.coord([x, 0]), b = api.coord([x, y]);
      return {type: 'line', shape: {x1: a[0], y1: a[1], x2: b[0], y2: b[1]},
        style: {stroke: BLUE, lineWidth: 2.2}};
    }
  };
}

function heads(i, pts) {
  return {
    type: 'scatter', xAxisIndex: i, yAxisIndex: i, z: 3, silent: true,
    data: pts, symbol: 'circle', symbolSize: 9,
    itemStyle: {color: 'rgba(0,0,0,0)', borderColor: BLUE, borderWidth: 2}
  };
}

function refLines(i) {
  return {
    type: 'line', xAxisIndex: i, yAxisIndex: i, data: [], z: 4, silent: true,
    markLine: {silent: true, z: 5, symbol: ['none', 'none'], label: {show: false}, animation: false,
      data: [
        {yAxis: 0, lineStyle: {color: '#A9A9A9', width: 2.5, type: 'solid'}},
        {yAxis: threshold, lineStyle: {color: '#FF0000', width: 3, type: 'solid'}},
        {yAxis: -threshold, lineStyle: {color: '#FF0000', width: 3, type: 'solid'}}
      ]}
  };
}

function labels(i, xs, ys, texts) {
  return {
    type: 'scatter', xAxisIndex: i, yAxisIndex: i, z: 6, silent: true,
    symbolSize: 1, itemStyle: {color: 'rgba(0,0,0,0)'},
    data: xs.map((x, k) => ({value: [x, ys[k]], label: {formatter: String(texts[k])}})),
    label: {show: true, position: 'right', distance: 5, color: DARKRED,
      fontFamily: 'Liberation Serif', fontStyle: 'italic', fontSize: 20}
  };
}

const titleStyle = {fontSize: 29, fontWeight: 'normal', color: '#000', fontFamily: FONT};
const pointsA = fittedVsResidCore.concat(fittedVsResid);
const pointsB = indexVsResidCore.concat(indexVsResid);

const option = {
  animation: false,
  backgroundColor: '#FFFFFF',
  title: [
    {text: '(a) residuals vs fitted values', left: 83, top: 11, padding: 0, textStyle: titleStyle},
    {text: '(b) residuals vs index', left: 1041, top: 11, padding: 0, textStyle: titleStyle},
    {text: '(c) residuals density', left: 94, top: 492, padding: 0, textStyle: titleStyle},
    {text: '(d) QQ-plot of residuals', left: 1043, top: 492, padding: 0, textStyle: titleStyle}
  ],
  grid: [
    {left: 83, top: 62, width: 866, height: 332},
    {left: 1041, top: 62, width: 864, height: 332},
    {left: 94, top: 542, width: 851, height: 334},
    {left: 1043, top: 543, width: 862, height: 333}
  ].map(g => Object.assign({show: true, backgroundColor: PANEL, borderWidth: 0, containLabel: false}, g)),
  xAxis: [
    xAxisFor(0, 242, 1890, [500, 1000, 1500], 'mu fitted values', 44),
    xAxisFor(1, -97, 2068, [0, 500, 1000, 1500, 2000], 'Observation number', 44),
    xAxisFor(2, -3.84, 4.06, [-2, 0, 2, 4], 'Quantile Residuals', 42),
    xAxisFor(3, -3.84, 3.88, [-2, 0, 2], 'Theoretical', 42)
  ],
  yAxis: [
    yAxisFor(0, -3.7, 4.03, [-2, 0, 2, 4], 'Quantile Residuals', 44),
    yAxisFor(1, -3.7, 4.03, [-2, 0, 2, 4], 'Quantile Residuals', 44),
    yAxisFor(2, -0.0203, 0.4264, [0, 0.1, 0.2, 0.3, 0.4], 'density', 54, v => v.toFixed(1)),
    yAxisFor(3, -3.83, 4.04, [-2, 0, 2, 4], 'Residuals', 46)
  ],
  series: [
    // (a)
    gridLines(0, [500, 1000, 1500], [250, 750, 1250, 1750], [-2, 0, 2, 4], [-3, -1, 1, 3]),
    stems(0, pointsA),
    heads(0, pointsA),
    refLines(0),
    labels(0, outlierFitted, outlierResid, outlierIds),
    // (b)
    gridLines(1, [0, 500, 1000, 1500, 2000], [250, 750, 1250, 1750], [-2, 0, 2, 4], [-3, -1, 1, 3]),
    stems(1, pointsB),
    heads(1, pointsB),
    refLines(1),
    labels(1, outlierIds, outlierResid, outlierIds),
    {
      type: 'scatter', xAxisIndex: 1, yAxisIndex: 1, z: 6, silent: true,
      symbolSize: 1, itemStyle: {color: 'rgba(0,0,0,0)'},
      data: [[1560, 2.9]],
      label: {show: true, position: 'inside', formatter: 'Threshold: abs(' + threshold + ')',
        color: DARKRED, fontFamily: 'Liberation Serif', fontStyle: 'italic', fontSize: 30}
    },
    // (c)
    gridLines(2, [-2, 0, 2, 4], [-3, -1, 1, 3], [0, 0.1, 0.2, 0.3, 0.4], [0.05, 0.15, 0.25, 0.35]),
    {
      type: 'custom', xAxisIndex: 2, yAxisIndex: 2, z: 2, silent: true,
      data: histDensity.map((d, k) => [histStart + k * histBinWidth, histStart + (k + 1) * histBinWidth, d]),
      encode: {x: [0, 1], y: 2},
      renderItem: (params, api) => {
        const p0 = api.coord([api.value(0), api.value(2)]);
        const p1 = api.coord([api.value(1), 0]);
        return {type: 'rect', shape: {x: p0[0], y: p0[1], width: p1[0] - p0[0], height: p1[1] - p0[1]},
          style: {fill: '#FFFFFF', stroke: '#000000', lineWidth: 1.8}};
      }
    },
    {
      type: 'line', xAxisIndex: 2, yAxisIndex: 2, z: 3, silent: true,
      data: densX.map((x, k) => [x, densY[k]]),
      smooth: 0.4, symbol: 'none',
      lineStyle: {color: '#000', width: 2},
      areaStyle: {color: 'rgba(255,102,102,0.22)', origin: 0}
    },
    // (d)
    gridLines(3, [-2, 0, 2], [-3, -1, 1, 3], [-2, 0, 2, 4], [-3, -1, 1, 3]),
    {
      type: 'scatter', xAxisIndex: 3, yAxisIndex: 3, z: 2, silent: true,
      data: qqTheo.map((x, k) => [x, qqResid[k]]),
      symbolSize: 12.5, itemStyle: {color: BLUE}
    },
    {
      type: 'line', xAxisIndex: 3, yAxisIndex: 3, z: 3, silent: true,
      data: qqLineX.map((x, k) => [x, qqLineY[k]]),
      symbol: 'none', lineStyle: {color: '#A0A0A0', width: 2.5}
    },
    labels(3, qqLabelTheo, qqLabelResid, qqLabelIds)
  ]
};

chart.setOption(option);
</script>
</body>
</html>
